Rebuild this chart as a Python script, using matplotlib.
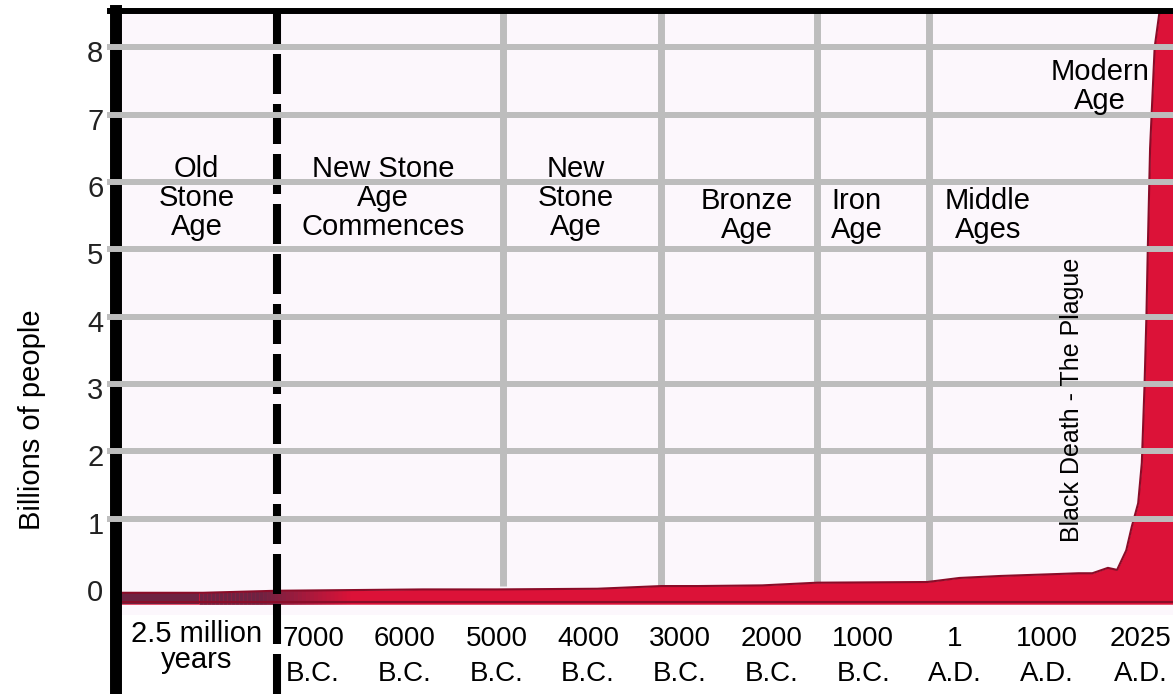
import matplotlib
matplotlib.use('Agg')
import matplotlib.pyplot as plt
import matplotlib.transforms as mtransforms
import numpy as np

plt.rcParams['font.family'] = ['Liberation Sans', 'DejaVu Sans']
plt.rcParams['lines.scale_dashes'] = False

# time axis in thousands of years (negative = B.C.), population in billions
years = [-9.15, -8.2, -7.4, -5.8, -5.0, -3.9, -3.2, -2.8, -2.1, -1.5, -0.3,
         0.05, 0.5, 1.15, 1.35, 1.5, 1.67, 1.77, 1.87, 1.93, 2.0, 2.04,
         2.07, 2.09, 2.105, 2.13, 2.18, 2.24, 2.38]
population = [-0.10, -0.10, -0.07, -0.05, -0.05, -0.04, 0.0, 0.0, 0.01, 0.05, 0.06,
              0.12, 0.15, 0.18, 0.19, 0.19, 0.27, 0.24, 0.53, 0.88, 1.23, 1.83,
              3.0, 4.0, 5.0, 6.5, 8.0, 8.6, 8.6]

tick_years = [-7, -6, -5, -4, -3, -2, -1, 0, 1, 2.025]
tick_labels = ['7000\nB.C.', '6000\nB.C.', '5000\nB.C.', '4000\nB.C.', '3000\nB.C.',
               '2000\nB.C.', '1000\nB.C.', '1\nA.D.', '1000\nA.D.', '2025\nA.D.']

era_names = ['Old\nStone\nAge', 'New Stone\nAge\nCommences', 'New\nStone\nAge',
             'Bronze\nAge', 'Iron\nAge', 'Middle\nAges', 'Modern\nAge']
era_x = [-8.27, -6.24, -4.13, -2.27, -1.07, 0.36, 1.58]
era_y = [5.76, 5.76, 5.76, 5.5, 5.5, 5.5, 7.42]

era_bounds = [-4.93, -3.20, -1.50, -0.28]
stone_age_start = -7.39

fig = plt.figure(figsize=(11.73, 6.94), dpi=100)
ax = fig.add_axes([116 / 1173, 1 - 615 / 694, 1 - 116 / 1173, (615 - 11) / 694])
ax.set_facecolor('#fcf7fc')
ax.set_xlim(-9.15, 2.38)
ax.set_ylim(-0.43, 8.54)
for s in ax.spines.values():
    s.set_visible(False)

# vertical era separators (behind the area)
ax.vlines(era_bounds, 0, 8.54, color='#bdbdbd', lw=5, zorder=1)

x = np.array(years)
y = np.array(population)
base = -0.27
ax.fill_between(x, base, y, color='#dc1238', lw=0, zorder=2)
# darker tone over the old stone age part, fading into the red
xx = np.linspace(-9.15, -6.6, 60)
yy = np.interp(xx, x, y)
for i in range(len(xx) - 1):
    a = 1.0 if xx[i] < -7.6 else max(0.0, (-6.6 - xx[i]) / 1.0)
    ax.fill_between(xx[i:i + 2], base, yy[i:i + 2], color='#6e2342', alpha=a, lw=0, zorder=2)
ax.plot(x, y, color='#8a0c28', lw=1.5, zorder=3)
ax.plot(x, np.full_like(x, base + 0.03), color='#8a0c28', lw=1.5, zorder=3)

# frame lines
ax.axvline(-9.15, ymin=-0.131, ymax=1, color='black', lw=8.6, clip_on=False, zorder=4)
ax.axvline(stone_age_start, ymin=-0.131, ymax=1, color='black', lw=5.8,
           ls=(0, (28.8, 7.2)), clip_on=False, zorder=4)
ax.axhline(8.54, xmin=-0.006, color='black', lw=4.3, clip_on=False, zorder=4)

# horizontal grid over everything
for v in range(1, 9):
    ax.axhline(v, xmin=-0.006, color='#bdbdbd', lw=4.3, clip_on=False, zorder=5)

ax.set_yticks(range(0, 9))
ax.set_yticklabels([str(v) for v in range(0, 9)], fontsize=21, color='#222222')
ax.tick_params(axis='y', length=0, pad=9)
shift = mtransforms.ScaledTranslation(0, -4 / 100, fig.dpi_scale_trans)
for lab in ax.get_yticklabels():
    lab.set_transform(lab.get_transform() + shift)
ax.set_xticks(tick_years)
ax.set_xticklabels(tick_labels, fontsize=20, linespacing=1.45)
ax.tick_params(axis='x', length=0, pad=8)

for name, ex, ey in zip(era_names, era_x, era_y):
    ax.text(ex, ey, name, ha='center', va='center', fontsize=21, linespacing=1.05, zorder=6)

ax.text(1.28, 2.77, 'Black Death - The Plague', rotation=90, ha='center', va='center',
        fontsize=18, family=['Liberation Sans Narrow', 'Liberation Sans'], zorder=6)

ax.text(-8.27, -0.053, '2.5 million\nyears', transform=ax.get_xaxis_transform(),
        ha='center', va='center', fontsize=21, linespacing=0.95)

fig.text(32 / 1173, 1 - 420 / 694, 'Billions of people', rotation=90,
         ha='center', va='center', fontsize=21)

fig.savefig('out.png', dpi=100)
